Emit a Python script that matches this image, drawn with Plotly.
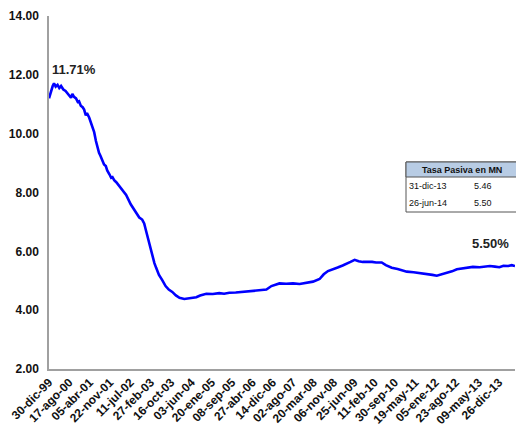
import plotly.graph_objects as go

# Tasa pasiva en MN
dates = [
    "1999-12-30", "2000-01-20", "2000-02-10", "2000-02-25", "2000-03-15", "2000-04-05",
    "2000-04-25", "2000-05-15", "2000-06-10", "2000-07-05", "2000-07-25", "2000-08-14",
    "2000-09-05", "2000-09-20", "2000-10-09", "2000-11-01", "2000-11-20", "2000-12-05",
    "2000-12-25", "2001-01-15", "2001-02-01", "2001-02-20", "2001-03-05", "2001-03-30",
    "2001-04-20", "2001-05-10", "2001-05-26", "2001-06-15", "2001-06-29", "2001-07-20",
    "2001-08-05", "2001-08-25", "2001-09-15", "2001-10-05", "2001-10-21", "2001-11-15",
    "2001-12-05", "2001-12-20", "2002-01-08", "2002-02-01", "2002-03-28", "2002-05-24",
    "2002-07-15", "2002-09-15", "2002-10-20", "2002-11-22", "2002-12-15", "2003-01-05",
    "2003-01-25", "2003-02-15", "2003-03-16", "2003-04-10", "2003-05-01", "2003-06-01",
    "2003-07-08", "2003-08-15", "2003-09-20", "2003-10-30", "2003-12-10", "2004-01-20",
    "2004-03-14", "2004-05-10", "2004-06-20", "2004-07-29", "2004-09-10", "2004-11-20",
    "2005-02-01", "2005-04-15", "2005-06-10", "2005-08-08", "2005-10-20", "2005-12-20",
    "2006-03-24", "2006-06-10", "2006-08-15", "2006-10-03", "2006-11-29", "2007-01-10",
    "2007-02-28", "2007-05-15", "2007-08-01", "2007-10-15", "2008-01-02", "2008-03-15",
    "2008-05-29", "2008-07-15", "2008-09-01", "2008-10-24", "2008-12-20", "2009-02-15",
    "2009-04-01", "2009-05-15", "2009-07-01", "2009-08-15", "2009-10-01", "2009-11-14",
    "2010-01-15", "2010-03-01", "2010-05-04", "2010-06-20", "2010-08-26", "2010-11-01",
    "2010-12-20", "2011-02-13", "2011-05-01", "2011-08-14", "2011-10-20", "2011-12-01",
    "2012-01-20", "2012-03-10", "2012-05-13", "2012-07-10", "2012-09-04", "2012-11-01",
    "2013-01-10", "2013-03-05", "2013-05-20", "2013-07-15", "2013-09-14", "2013-11-10",
    "2013-12-31", "2014-02-15", "2014-04-10", "2014-05-20", "2014-06-26",
]
rates = [
    11.20, 11.45, 11.62, 11.71, 11.60, 11.66,
    11.55, 11.62, 11.50, 11.45, 11.38, 11.28,
    11.22, 11.35, 11.25, 11.20, 11.08, 11.10,
    10.95, 10.90, 10.82, 10.62, 10.70, 10.55,
    10.38, 10.15, 10.05, 9.75, 9.55, 9.35,
    9.25, 9.10, 8.95, 8.90, 8.75, 8.62,
    8.50, 8.52, 8.42, 8.35, 8.15, 7.92,
    7.60, 7.29, 7.15, 7.08, 6.95, 6.70,
    6.45, 6.20, 5.82, 5.60, 5.43, 5.20,
    5.02, 4.82, 4.70, 4.62, 4.50, 4.42,
    4.38, 4.40, 4.42, 4.44, 4.50, 4.56,
    4.55, 4.58, 4.56, 4.59, 4.60, 4.62,
    4.65, 4.66, 4.70, 4.70, 4.82, 4.86,
    4.91, 4.90, 4.91, 4.89, 4.92, 4.97,
    5.06, 5.22, 5.33, 5.40, 5.45, 5.52,
    5.57, 5.64, 5.71, 5.66, 5.64, 5.65,
    5.64, 5.62, 5.62, 5.53, 5.44, 5.40,
    5.36, 5.31, 5.29, 5.25, 5.24, 5.20,
    5.17, 5.21, 5.28, 5.32, 5.39, 5.41,
    5.44, 5.47, 5.46, 5.49, 5.50, 5.48,
    5.46, 5.51, 5.50, 5.53, 5.50,
]

tick_dates = [
    "1999-12-30", "2000-08-17", "2001-04-05", "2001-11-22", "2002-07-11", "2003-02-27",
    "2003-10-16", "2004-06-03", "2005-01-20", "2005-09-08", "2006-04-27", "2006-12-14",
    "2007-08-02", "2008-03-20", "2008-11-06", "2009-06-25", "2010-02-11", "2010-09-30",
    "2011-05-19", "2012-01-05", "2012-08-23", "2013-05-09", "2013-12-26",
]
tick_labels = [
    "30-dic-99", "17-ago-00", "05-abr-01", "22-nov-01", "11-jul-02", "27-feb-03",
    "16-oct-03", "03-jun-04", "20-ene-05", "08-sep-05", "27-abr-06", "14-dic-06",
    "02-ago-07", "20-mar-08", "06-nov-08", "25-jun-09", "11-feb-10", "30-sep-10",
    "19-may-11", "05-ene-12", "23-ago-12", "09-may-13", "26-dic-13",
]

table_title = "Tasa Pasiva en MN"
table_dates = ["31-dic-13", "26-jun-14"]
table_values = ["5.46", "5.50"]

peak_label = "11.71%"
last_label = "5.50%"

# the page body adds an 8px margin, so the figure is a bit smaller than the window
OFF = 8
W, H = 524 - OFF, 439 - OFF
L, R, T, B = 41, 9, 8, 70


def px(x):
    # window pixel -> paper x
    return (x - OFF - L) / (W - L - R)


def py(y):
    # window pixel -> paper y
    return (H - B - (y - OFF)) / (H - T - B)


fig = go.Figure()
fig.add_trace(go.Scatter(
    x=dates, y=rates, mode="lines",
    line=dict(color="#0000ff", width=2.6),
    hoverinfo="x+y", showlegend=False,
))

fig.add_annotation(x="2000-10-09", y=12.18, text="<b>" + peak_label + "</b>",
                   showarrow=False, font=dict(size=13, color="#222222"))
fig.add_annotation(x="2013-09-26", y=6.25, text="<b>" + last_label + "</b>",
                   showarrow=False, font=dict(size=13, color="#222222"))

# little summary table
tx0, tx1 = px(406), px(517)
fig.add_shape(type="rect", xref="paper", yref="paper",
              x0=tx0, x1=tx1, y0=py(212), y1=py(162),
              line=dict(color="#555555", width=1), fillcolor="white")
fig.add_shape(type="rect", xref="paper", yref="paper",
              x0=tx0, x1=tx1, y0=py(177), y1=py(162),
              line=dict(color="#555555", width=1), fillcolor="#b8cce4")
fig.add_annotation(xref="paper", yref="paper", x=px(462), y=py(169.5),
                   xanchor="center", yanchor="middle",
                   text="<b>" + table_title + "</b>", showarrow=False,
                   font=dict(size=9, color="#111111"))
for i, (d, v) in enumerate(zip(table_dates, table_values)):
    yy = py(186 + i * 17)
    fig.add_annotation(xref="paper", yref="paper", x=px(407), y=yy, xanchor="left",
                       text=d, showarrow=False, font=dict(size=9, color="#111111"))
    fig.add_annotation(xref="paper", yref="paper", x=px(472), y=yy, xanchor="left",
                       text=v, showarrow=False, font=dict(size=9, color="#111111"))

fig.update_layout(
    width=W, height=H,
    margin=dict(l=L, r=R, t=T, b=B, autoexpand=False),
    paper_bgcolor="white", plot_bgcolor="white",
    font=dict(family="Liberation Sans, Arial, sans-serif", color="#111111"),
)
fig.update_xaxes(
    range=["1999-12-30", "2014-06-26"], automargin=False,
    tickmode="array", tickvals=tick_dates,
    ticktext=["<b>" + t + "</b>" for t in tick_labels],
    tickangle=-45, tickfont=dict(size=12),
    showgrid=False, zeroline=False,
    showline=True, linecolor="#a0a0a0", linewidth=1.5, ticks="",
    ticklabeloverflow="allow",
)
fig.update_yaxes(
    range=[2, 14], dtick=2, tick0=2, tickformat=".2f", automargin=False,
    tickfont=dict(size=12), showgrid=False, zeroline=False,
    showline=True, linecolor="#a0a0a0", linewidth=1.5, ticks="",
    ticklabelstandoff=6, ticklabeloverflow="allow",
)
fig.for_each_yaxis(lambda a: a.update(tickprefix="<b>", ticksuffix="</b>"))

fig.write_html("out.html")
